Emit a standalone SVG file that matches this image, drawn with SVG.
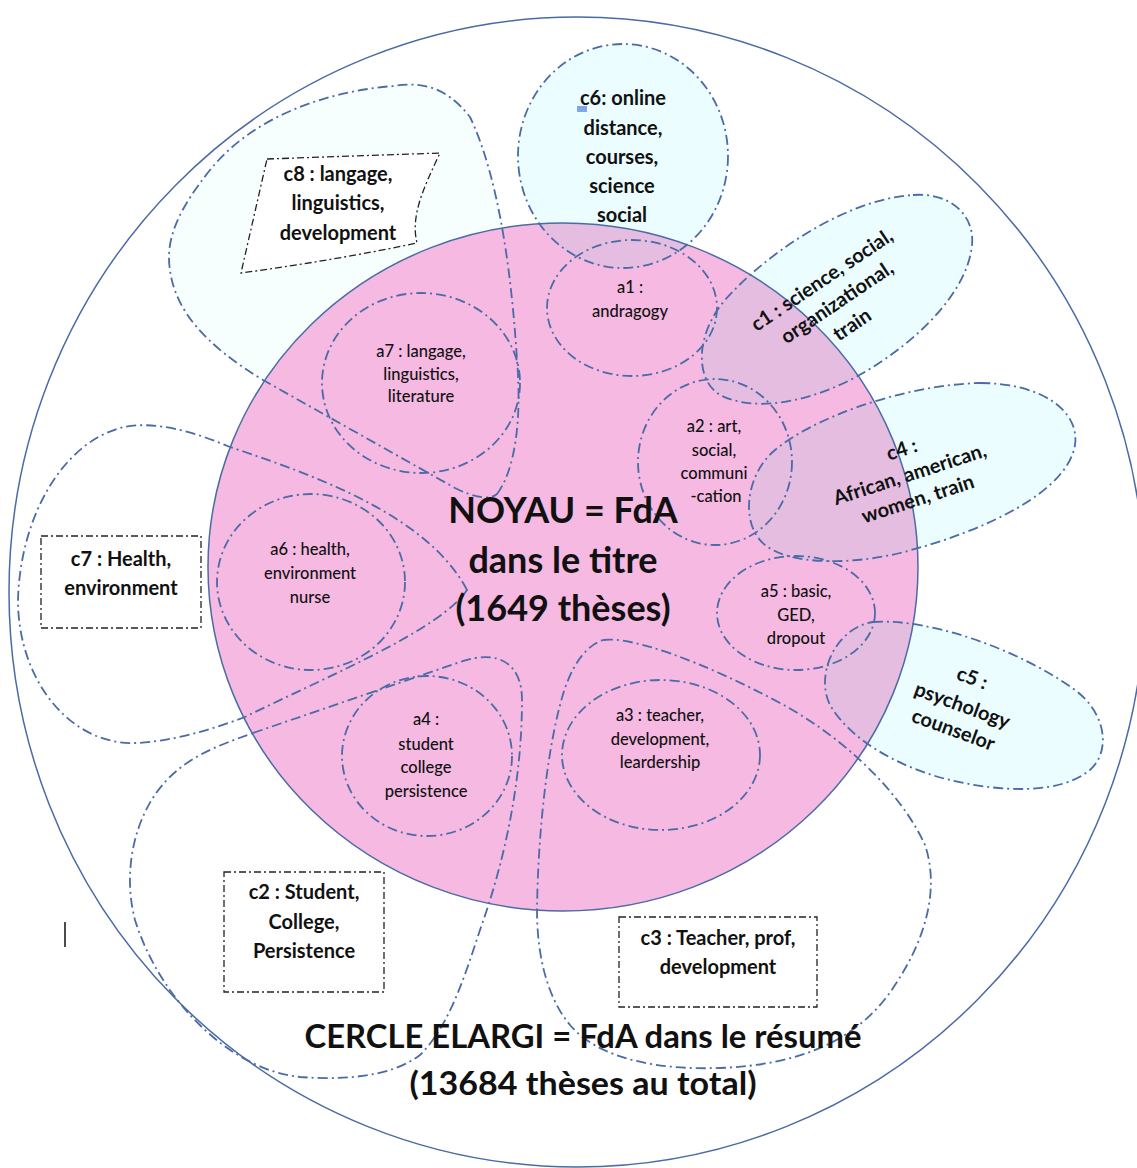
<svg xmlns="http://www.w3.org/2000/svg" xmlns:xlink="http://www.w3.org/1999/xlink" width="1137" height="1168" viewBox="0 0 1137 1168">
<style>
  .solid { fill: none; stroke: #4A6BA5; stroke-width: 1.5; }
  .dd { fill: none; stroke: #4A6BA5; stroke-width: 1.8; stroke-dasharray: 10 4 2 4; }
  .box { fill: #FFFFFF; stroke: #222222; stroke-width: 1.3; stroke-dasharray: 7 3 2 3; }
  .cyan { fill: #EBFDFE; stroke: none; }
  .lav { fill: #E5BDE0; stroke: none; }
  text { font-family: Lato, "Open Sans", "Liberation Sans", sans-serif; fill: #111111; text-anchor: middle; }
  .cl { font-size: 20px; font-weight: bold; }
  .al { font-size: 16.5px; font-weight: 500; }
  .big { font-size: 36px; font-weight: bold; }
  .big2 { font-size: 32px; font-weight: bold; }
</style>
<defs>
  <ellipse id="pinkShape" cx="563" cy="567" rx="355" ry="344"/>
  <ellipse id="c6Shape" cx="623" cy="156" rx="105" ry="112"/>
  <path id="c1Shape" d="M 913,195 C 950,192 975,215 972,245 C 968,290 920,340 863,373 C 820,398 760,415 720,395 C 695,380 695,335 725,300 C 760,260 840,200 913,195 Z"/>
  <path id="c4Shape" d="M 980,383 C 1040,383 1080,410 1075,445 C 1068,490 990,530 900,553 C 850,565 790,565 765,545 C 740,525 745,475 775,450 C 810,420 900,385 980,383 Z"/>
  <path id="c5Shape" d="M 873,622 C 930,618 1020,650 1075,690 C 1105,712 1112,750 1090,770 C 1060,795 1000,792 950,780 C 900,768 850,740 830,705 C 815,675 835,628 873,622 Z"/>
  <path id="c8Shape" d="M 497,494 C 515,470 522,420 517,360 C 512,280 500,180 470,117 C 445,85 420,82 393,86 C 320,92 250,120 210,170 C 178,210 165,240 170,270 C 175,310 205,345 263,380 L 455,488 C 475,498 490,500 497,494 Z"/>
  <clipPath id="pinkClip"><use xlink:href="#pinkShape"/></clipPath>
</defs>

<g id="cercle-elargi">
  <ellipse cx="577" cy="592" rx="568" ry="575" fill="#FFFFFF" class="solid"/>
</g>

<g id="fills">
  <use xlink:href="#c8Shape" fill="#F7FEFE"/>
  <use xlink:href="#c6Shape" class="cyan"/>
  <use xlink:href="#c1Shape" class="cyan"/>
  <use xlink:href="#c4Shape" class="cyan"/>
  <use xlink:href="#c5Shape" class="cyan"/>
  <use xlink:href="#pinkShape" fill="#F5B9E2"/>
  <g clip-path="url(#pinkClip)">
    <use xlink:href="#c6Shape" class="lav"/>
    <use xlink:href="#c1Shape" class="lav"/>
    <use xlink:href="#c4Shape" class="lav"/>
    <use xlink:href="#c5Shape" class="lav"/>
  </g>
  <use xlink:href="#pinkShape" class="solid"/>
</g>

<g id="connectors"></g>

<g id="c8">
  <use xlink:href="#c8Shape" class="dd"/>
  <path class="box" d="M 267,159 L 440,153 C 425,185 410,215 417,243 C 360,255 300,265 241,273 Z"/>
  <text class="cl" x="338" y="181">c8 : langage,</text>
  <text class="cl" x="338" y="210">linguistics,</text>
  <text class="cl" x="338" y="240">development</text>
</g>

<g id="c7">
  <path class="dd" d="M 467,590 C 430,520 330,480 230,447 C 190,430 150,420 120,428 C 60,445 20,520 18,600 C 18,680 70,745 135,743 C 170,742 210,730 245,717 C 330,675 440,630 467,590 Z"/>
  <rect class="box" x="41" y="536" width="160" height="92"/>
  <text class="cl" x="121" y="566">c7 : Health,</text>
  <text class="cl" x="121" y="595">environment</text>
</g>

<g id="c2">
  <path class="dd" d="M 253,733 L 460,662 C 500,648 522,665 522,700 C 522,780 505,860 480,930 C 465,975 450,1025 420,1055 C 390,1078 340,1080 300,1077 C 230,1070 160,1000 135,920 C 122,870 135,815 165,782 C 190,755 220,745 253,733 Z"/>
  <rect class="box" x="224" y="872" width="160" height="120"/>
  <text class="cl" x="304" y="899">c2 : Student,</text>
  <text class="cl" x="304" y="929">College,</text>
  <text class="cl" x="304" y="958">Persistence</text>
</g>

<g id="c3">
  <path class="dd" d="M 603,640 C 630,636 700,660 780,703 C 840,735 900,790 925,845 C 940,890 925,940 895,985 C 860,1040 800,1065 720,1068 C 660,1070 600,1060 570,1025 C 545,995 537,950 537,910 C 538,830 548,740 565,688 C 575,660 588,645 603,640 Z"/>
  <rect class="box" x="619" y="917" width="198" height="90"/>
  <text class="cl" x="718" y="945">c3 : Teacher, prof,</text>
  <text class="cl" x="718" y="974">development</text>
</g>

<g id="c6">
  <use xlink:href="#c6Shape" class="dd"/>
  <rect x="577" y="106" width="10" height="6" fill="#7FA7E8"/>
  <text class="cl" x="623" y="105">c6: online</text>
  <text class="cl" x="623" y="135">distance,</text>
  <text class="cl" x="622" y="164">courses,</text>
  <text class="cl" x="622" y="193">science</text>
  <text class="cl" x="622" y="222">social</text>
</g>

<g id="c1">
  <use xlink:href="#c1Shape" class="dd"/>
  <g transform="rotate(-34 834 298)">
    <text class="cl" x="834" y="283">c1 : science, social,</text>
    <text class="cl" x="834" y="310">organizational,</text>
    <text class="cl" x="834" y="337">train</text>
  </g>
</g>

<g id="c4">
  <use xlink:href="#c4Shape" class="dd"/>
  <g transform="rotate(-18 910 475)">
    <text class="cl" x="910" y="455">c4 :</text>
    <text class="cl" x="910" y="481">African, american,</text>
    <text class="cl" x="910" y="507">women, train</text>
  </g>
</g>

<g id="c5">
  <use xlink:href="#c5Shape" class="dd"/>
  <g transform="rotate(20 962 706)">
    <text class="cl" x="962" y="683">c5 :</text>
    <text class="cl" x="962" y="712">psychology</text>
    <text class="cl" x="962" y="738">counselor</text>
  </g>
</g>

<g id="a1">
  <ellipse class="dd" cx="632" cy="308" rx="85" ry="68"/>
  <text class="al" x="630" y="293">a1 :</text>
  <text class="al" x="630" y="317">andragogy</text>
</g>

<g id="a2">
  <ellipse class="dd" cx="715" cy="462" rx="77" ry="83"/>
  <text class="al" x="714" y="432">a2 : art,</text>
  <text class="al" x="714" y="456">social,</text>
  <text class="al" x="714" y="479">communi</text>
  <text class="al" x="716" y="502">-cation</text>
</g>

<g id="a3">
  <ellipse class="dd" cx="661" cy="755" rx="99" ry="75"/>
  <text class="al" x="660" y="721">a3 : teacher,</text>
  <text class="al" x="660" y="745">development,</text>
  <text class="al" x="660" y="768">leardership</text>
</g>

<g id="a4">
  <ellipse class="dd" cx="427" cy="756" rx="85" ry="80"/>
  <text class="al" x="426" y="725">a4 :</text>
  <text class="al" x="426" y="750">student</text>
  <text class="al" x="426" y="773">college</text>
  <text class="al" x="426" y="797">persistence</text>
</g>

<g id="a5">
  <ellipse class="dd" cx="796" cy="613" rx="79" ry="57"/>
  <text class="al" x="796" y="597">a5 : basic,</text>
  <text class="al" x="796" y="621">GED,</text>
  <text class="al" x="796" y="644">dropout</text>
</g>

<g id="a6">
  <ellipse class="dd" cx="311" cy="582" rx="94" ry="88"/>
  <text class="al" x="310" y="555">a6 : health,</text>
  <text class="al" x="310" y="579">environment</text>
  <text class="al" x="310" y="603">nurse</text>
</g>

<g id="a7">
  <ellipse class="dd" cx="421" cy="383" rx="99" ry="90"/>
  <text class="al" x="421" y="357">a7 : langage,</text>
  <text class="al" x="421" y="380">linguistics,</text>
  <text class="al" x="421" y="402">literature</text>
</g>

<g id="noyau">
  <text class="big" x="563" y="523">NOYAU = FdA</text>
  <text class="big" x="563" y="573">dans le titre</text>
  <text class="big" x="563" y="621">(1649 thèses)</text>
</g>

<g id="cercle-label">
  <text class="big2" x="583" y="1048" textLength="557" lengthAdjust="spacingAndGlyphs">CERCLE ELARGI = FdA dans le résumé</text>
  <text class="big2" x="583" y="1095" textLength="347" lengthAdjust="spacingAndGlyphs">(13684 thèses au total)</text>
</g>

<line x1="65" y1="922" x2="65" y2="947" stroke="#111111" stroke-width="1.5"/>
</svg>
